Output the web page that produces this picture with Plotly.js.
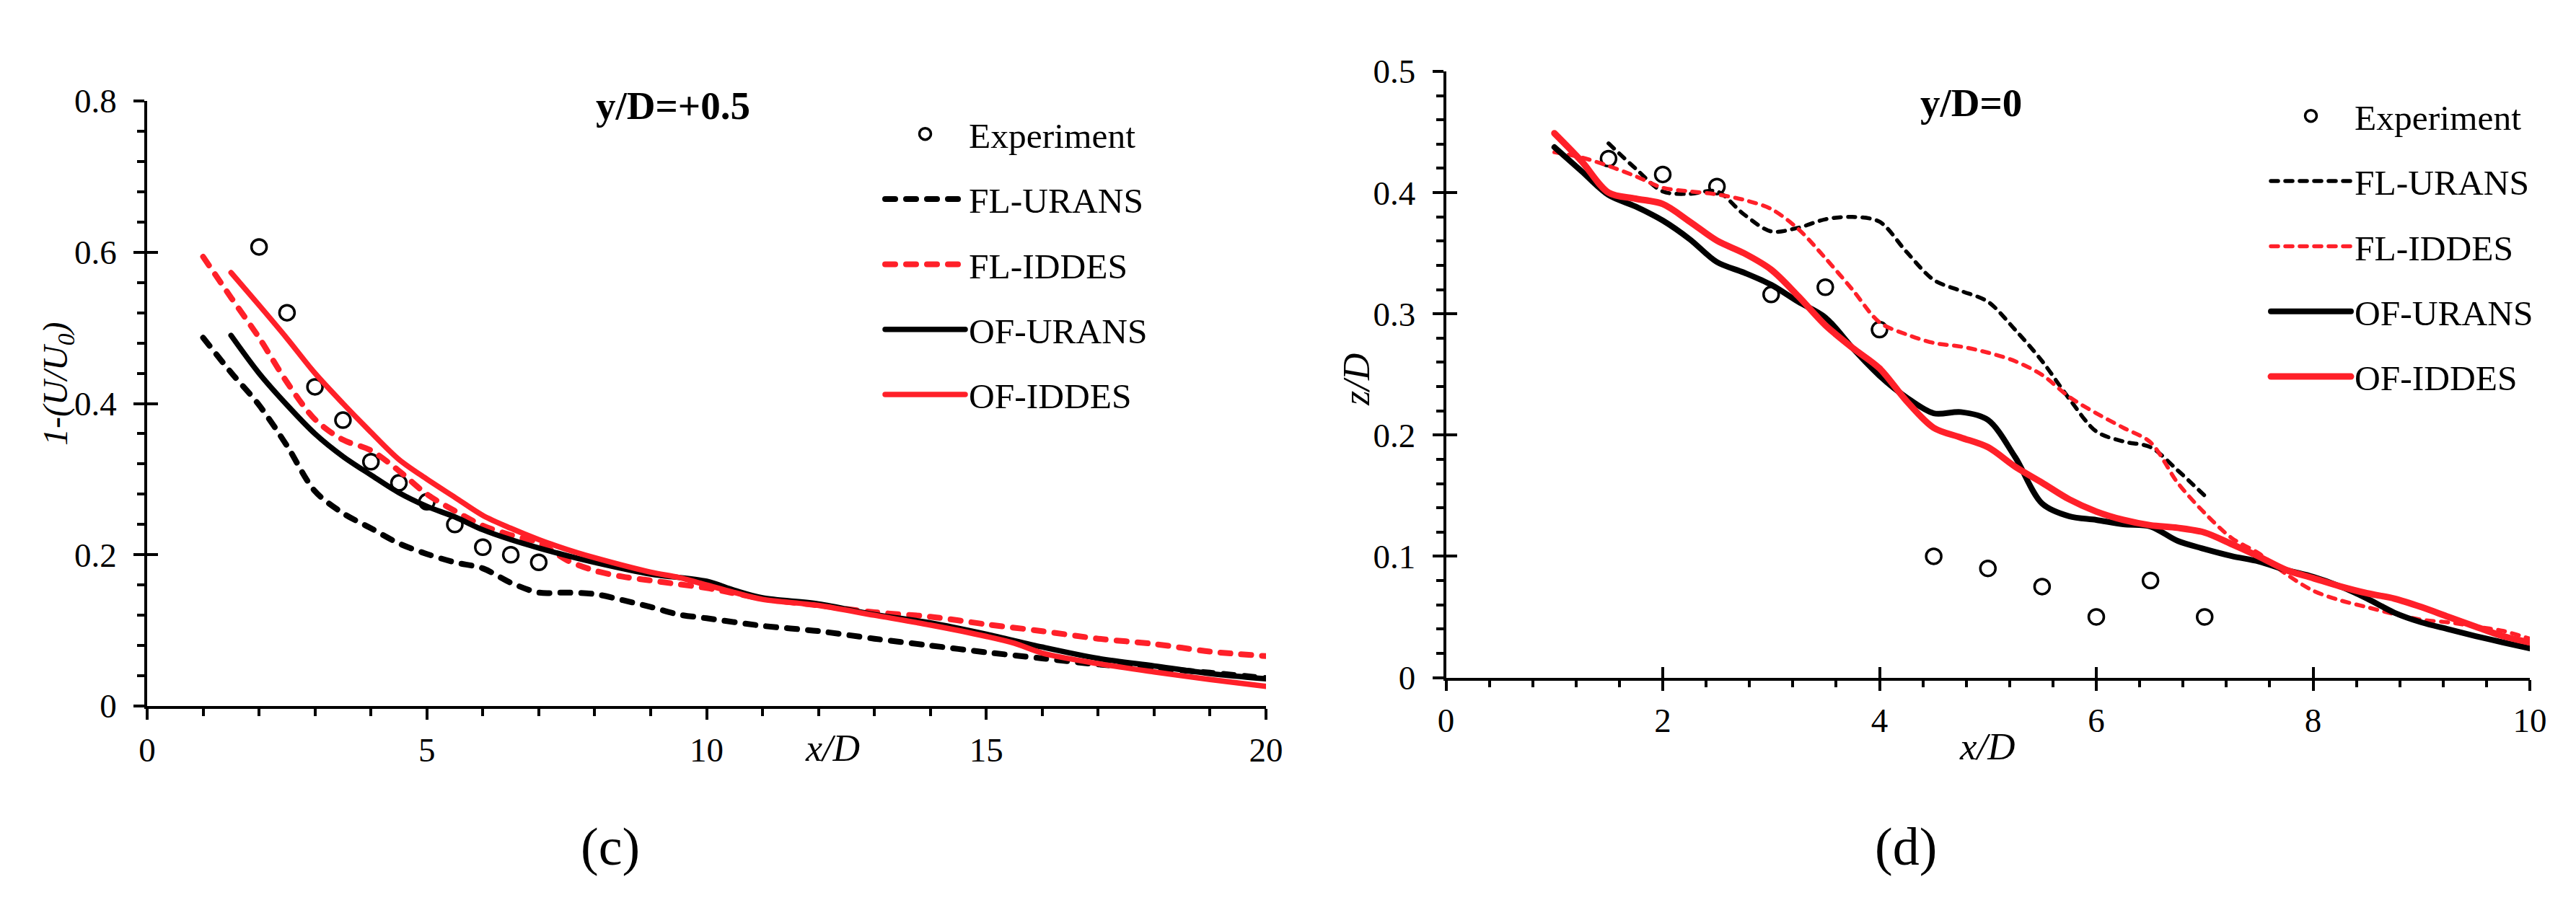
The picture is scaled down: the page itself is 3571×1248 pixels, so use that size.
<!DOCTYPE html>
<html>
<head>
<meta charset="utf-8">
<script src="https://cdn.plot.ly/plotly-3.0.1.min.js"></script>
<style>
html, body { margin: 0; padding: 0; background: #fff; }
path.js-line { stroke-linecap: round; }
</style>
</head>
<body>
<div id="chart" style="width:3571px;height:1248px"></div>
<script>
const series_names = ['Experiment', 'FL-URANS', 'FL-IDDES', 'OF-URANS', 'OF-IDDES'];

// panel (c), y/D=+0.5
const c_exp_x = [2, 2.5, 3, 3.5, 4, 4.5, 5, 5.5, 6, 6.5, 7];
const c_exp_y = [0.607, 0.52, 0.422, 0.378, 0.323, 0.295, 0.27, 0.24, 0.21, 0.2, 0.19];
const c_fl_urans_x = [1, 1.5, 2, 2.5, 3, 3.5, 4, 4.5, 5, 5.5, 6, 6.5, 7, 7.5, 8, 8.5, 9, 9.5, 10, 11, 12, 13, 14, 15, 16, 17, 18, 19, 20];
const c_fl_urans_y = [0.487, 0.441, 0.398, 0.344, 0.284, 0.255, 0.235, 0.215, 0.201, 0.19, 0.182, 0.163, 0.15, 0.15, 0.148, 0.14, 0.131, 0.121, 0.116, 0.106, 0.099, 0.089, 0.08, 0.071, 0.063, 0.055, 0.05, 0.044, 0.037];
const c_fl_iddes_x = [1, 1.5, 2, 2.5, 3, 3.5, 4, 4.5, 5, 5.5, 6, 6.5, 7, 7.5, 8, 8.5, 9, 9.5, 10, 11, 12, 13, 14, 15, 16, 17, 18, 19, 20];
const c_fl_iddes_y = [0.594, 0.54, 0.487, 0.428, 0.379, 0.352, 0.338, 0.311, 0.28, 0.258, 0.2385, 0.226, 0.216, 0.193, 0.179, 0.171, 0.166, 0.161, 0.156, 0.142, 0.133, 0.124, 0.118, 0.108, 0.099, 0.089, 0.082, 0.072, 0.066];
const c_of_urans_x = [1.5, 2, 2.5, 3, 3.5, 4, 4.5, 5, 5.5, 6, 6.5, 7, 7.5, 8, 9, 10, 10.5, 11, 12, 13, 14, 15, 16, 17, 18, 19, 20];
const c_of_urans_y = [0.49, 0.44, 0.398, 0.36, 0.33, 0.3055, 0.282, 0.264, 0.25, 0.233, 0.22, 0.209, 0.199, 0.19, 0.1745, 0.165, 0.153, 0.143, 0.135, 0.121, 0.11, 0.095, 0.078, 0.063, 0.053, 0.043, 0.036];
const c_of_iddes_x = [1.5, 2, 2.5, 3, 3.5, 4, 4.5, 5, 5.5, 6, 6.5, 7, 7.5, 8, 9, 9.5, 10, 10.5, 11, 12, 13, 14, 15, 15.5, 16, 17, 18, 19, 20];
const c_of_iddes_y = [0.573, 0.53, 0.486, 0.44, 0.4, 0.362, 0.326, 0.3, 0.276, 0.252, 0.235, 0.22, 0.207, 0.196, 0.177, 0.17, 0.16, 0.15, 0.141, 0.133, 0.12, 0.107, 0.092, 0.083, 0.07, 0.056, 0.045, 0.035, 0.026];

// panel (d), y/D=0
const d_exp_x = [1.5, 2, 2.5, 3, 3.5, 4, 4.5, 5, 5.5, 6, 6.5, 7];
const d_exp_y = [0.428, 0.415, 0.405, 0.316, 0.322, 0.287, 0.1, 0.09, 0.075, 0.05, 0.08, 0.05];
const d_fl_urans_x = [1.5, 1.75, 2, 2.25, 2.5, 2.75, 3, 3.25, 3.5, 3.75, 4, 4.25, 4.5, 4.75, 5, 5.25, 5.5, 5.75, 6, 6.25, 6.5, 6.75, 7];
const d_fl_urans_y = [0.4406, 0.4198, 0.401, 0.399, 0.401, 0.382, 0.368, 0.371, 0.378, 0.38, 0.376, 0.351, 0.328, 0.319, 0.31, 0.287, 0.261, 0.23, 0.203, 0.1947, 0.19, 0.171, 0.15];
const d_fl_iddes_x = [1, 1.25, 1.5, 1.75, 2, 2.25, 2.5, 2.75, 3, 3.25, 3.5, 3.75, 4, 4.25, 4.5, 4.75, 5, 5.25, 5.5, 5.75, 6, 6.25, 6.5, 6.75, 7, 7.25, 7.5, 7.75, 8, 8.25, 8.5, 8.75, 9, 9.25, 9.5, 9.75, 10];
const d_fl_iddes_y = [0.4333, 0.429, 0.422, 0.4135, 0.404, 0.401, 0.3985, 0.394, 0.3865, 0.37, 0.346, 0.32, 0.293, 0.283, 0.276, 0.273, 0.268, 0.261, 0.2496, 0.2315, 0.218, 0.206, 0.194, 0.1607, 0.1357, 0.115, 0.1024, 0.0854, 0.0717, 0.0637, 0.058, 0.0523, 0.0477, 0.0455, 0.042, 0.0385, 0.032];
const d_of_urans_x = [1, 1.25, 1.5, 1.75, 2, 2.25, 2.5, 2.75, 3, 3.25, 3.5, 3.75, 4, 4.25, 4.5, 4.75, 5, 5.25, 5.5, 5.75, 6, 6.25, 6.5, 6.75, 7, 7.25, 7.5, 7.75, 8, 8.25, 8.5, 8.75, 9, 9.25, 9.5, 9.75, 10];
const d_of_urans_y = [0.4375, 0.4177, 0.398, 0.3885, 0.377, 0.3615, 0.3427, 0.334, 0.324, 0.31, 0.297, 0.272, 0.249, 0.231, 0.218, 0.219, 0.2125, 0.182, 0.1435, 0.133, 0.13, 0.1264, 0.1246, 0.1127, 0.106, 0.1002, 0.0957, 0.0888, 0.0831, 0.0752, 0.0651, 0.0535, 0.0455, 0.0398, 0.0342, 0.029, 0.024];
const d_of_iddes_x = [1, 1.25, 1.5, 1.75, 2, 2.25, 2.5, 2.75, 3, 3.25, 3.5, 3.75, 4, 4.25, 4.5, 4.75, 5, 5.25, 5.5, 5.75, 6, 6.25, 6.5, 6.75, 7, 7.25, 7.5, 7.75, 8, 8.25, 8.5, 8.75, 9, 9.25, 9.5, 9.75, 10];
const d_of_iddes_y = [0.449, 0.426, 0.4, 0.395, 0.3906, 0.376, 0.3604, 0.35, 0.3365, 0.3146, 0.2906, 0.272, 0.255, 0.228, 0.206, 0.198, 0.19, 0.174, 0.1607, 0.147, 0.1369, 0.13, 0.1256, 0.1235, 0.1196, 0.11, 0.0998, 0.0888, 0.082, 0.0752, 0.0695, 0.0651, 0.0581, 0.05, 0.042, 0.0342, 0.029];

const W = 3571, H = 1248;
const RED = '#ff2029';
const SERIF = '"Liberation Serif", serif';

function px(x) { return x / W; }
function py(y) { return 1 - y / H; }

function line_trace(name, x, y, color, width, dash, xa, ya, legend, group) {
    return {
        x: x, y: y, name: name, type: 'scatter', mode: 'lines',
        xaxis: xa, yaxis: ya, legend: legend, legendgroup: group,
        line: {color: color, width: width, dash: dash, shape: 'spline', smoothing: 0.9},
    };
}

function exp_trace(x, y, xa, ya, legend, group) {
    return {
        x: x, y: y, name: series_names[0], type: 'scatter', mode: 'markers',
        xaxis: xa, yaxis: ya, legend: legend, legendgroup: group,
        marker: {symbol: 'circle-open', size: 21, color: '#000', line: {width: 3.5, color: '#000'}},
    };
}

// no data, only there so the overlay axes get drawn
function blank_trace(xa, ya) {
    return {x: [], y: [], type: 'scatter', mode: 'lines', xaxis: xa, yaxis: ya, showlegend: false};
}

const dash_c = '14px,15px';
const dash_d = '10px,10px';

const traces = [
    exp_trace(c_exp_x, c_exp_y, 'x', 'y', 'legend', 'c0'),
    line_trace(series_names[1], c_fl_urans_x, c_fl_urans_y, '#000', 8, dash_c, 'x', 'y', 'legend', 'c1'),
    line_trace(series_names[2], c_fl_iddes_x, c_fl_iddes_y, RED, 8, dash_c, 'x', 'y', 'legend', 'c2'),
    line_trace(series_names[3], c_of_urans_x, c_of_urans_y, '#000', 7.5, 'solid', 'x', 'y', 'legend', 'c3'),
    line_trace(series_names[4], c_of_iddes_x, c_of_iddes_y, RED, 7.5, 'solid', 'x', 'y', 'legend', 'c4'),
    exp_trace(d_exp_x, d_exp_y, 'x2', 'y2', 'legend2', 'd0'),
    line_trace(series_names[1], d_fl_urans_x, d_fl_urans_y, '#000', 5.5, dash_d, 'x2', 'y2', 'legend2', 'd1'),
    line_trace(series_names[2], d_fl_iddes_x, d_fl_iddes_y, RED, 5.5, dash_d, 'x2', 'y2', 'legend2', 'd2'),
    line_trace(series_names[3], d_of_urans_x, d_of_urans_y, '#000', 8, 'solid', 'x2', 'y2', 'legend2', 'd3'),
    line_trace(series_names[4], d_of_iddes_x, d_of_iddes_y, RED, 9, 'solid', 'x2', 'y2', 'legend2', 'd4'),
    blank_trace('x', 'y3'),
    blank_trace('x2', 'y4'),
    blank_trace('x3', 'y2'),
];

function main_axis(domain, range, dtick, minor_dtick, anchor, standoff) {
    return {
        domain: domain, range: range, anchor: anchor, dtick: dtick, tick0: 0,
        fixedrange: true, showgrid: false, zeroline: false, showline: true,
        linecolor: '#000', linewidth: 3.5,
        ticks: 'outside', ticklen: 15, tickwidth: 3.5, tickcolor: '#000',
        ticklabelstandoff: standoff,
        tickfont: {family: SERIF, size: 47, color: '#000'},
        minor: {dtick: minor_dtick, tick0: 0, ticks: 'outside', ticklen: 10, tickwidth: 3.5, tickcolor: '#000', showgrid: false},
    };
}

// upper half of the crossing major ticks
function inside_axis(domain, range, dtick, anchor, over) {
    return {
        domain: domain, range: range, anchor: anchor, overlaying: over, dtick: dtick, tick0: 0,
        fixedrange: true, showgrid: false, zeroline: false, showline: false, showticklabels: false,
        ticks: 'inside', ticklen: 15, tickwidth: 3.5, tickcolor: '#000',
    };
}

const c_x_dom = [px(204), px(1755)];
const c_y_dom = [py(979), py(140)];
const d_x_dom = [px(2004.5), px(3507)];
const d_y_dom = [py(939.5), py(99)];

function legend_opts(x, y) {
    return {
        x: px(x), y: py(y), xanchor: 'left', yanchor: 'top',
        bgcolor: 'rgba(0,0,0,0)', itemwidth: 111, tracegroupgap: 23,
        font: {family: SERIF, size: 49.5, color: '#000'},
        itemclick: false, itemdoubleclick: false,
    };
}

function label(text, x, y, size, angle) {
    return {
        text: text, xref: 'paper', yref: 'paper', x: px(x), y: py(y),
        xanchor: 'center', yanchor: 'middle', showarrow: false, textangle: angle || 0,
        font: {family: SERIF, size: size, color: '#000'},
    };
}

const layout = {
    width: W, height: H,
    margin: {l: 0, r: 0, t: 0, b: 0},
    paper_bgcolor: '#fff', plot_bgcolor: 'rgba(0,0,0,0)',
    xaxis: main_axis(c_x_dom, [0, 20], 5, 1, 'y', 2),
    yaxis: main_axis(c_y_dom, [0, 0.8], 0.2, 0.04, 'x', 14),
    xaxis2: main_axis(d_x_dom, [0, 10], 2, 0.4, 'y2', 0),
    yaxis2: main_axis(d_y_dom, [0, 0.5], 0.1, 0.02, 'x2', 14),
    yaxis3: inside_axis(c_y_dom, [0, 0.8], 0.2, 'x', 'y'),
    yaxis4: inside_axis(d_y_dom, [0, 0.5], 0.1, 'x2', 'y2'),
    xaxis3: inside_axis(d_x_dom, [0, 10], 2, 'y2', 'x2'),
    legend: legend_opts(1222, 147),
    legend2: legend_opts(3143, 122),
    annotations: [
        label('<b>y/D=+0.5</b>', 933, 146, 55),
        label('<b>y/D=0</b>', 2732, 142, 55),
        label('<i>x/D</i>', 1154, 1037, 52),
        label('<i>x/D</i>', 2755, 1035, 53),
        label('<i>1-(U/U<sub>0</sub>)</i>', 80, 533, 48, -90),
        label('<i>z/D</i>', 1881, 527, 52, -90),
        label('(c)', 846, 1174, 74),
        label('(d)', 2642, 1174, 74),
    ],
};

Plotly.newPlot('chart', traces, layout, {displayModeBar: false, responsive: false});
</script>
</body>
</html>
